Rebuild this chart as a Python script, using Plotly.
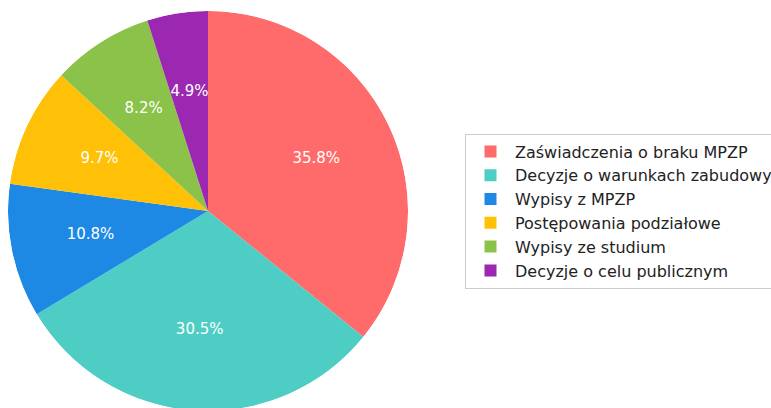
import plotly.graph_objects as go

categories = [
    "Zaświadczenia o braku MPZP",
    "Decyzje o warunkach zabudowy",
    "Wypisy z MPZP",
    "Postępowania podziałowe",
    "Wypisy ze studium",
    "Decyzje o celu publicznym",
]
values = [35.8, 30.5, 10.8, 9.7, 8.2, 4.9]
colors = ["#FF6B6B", "#4ECDC4", "#1E88E5", "#FFC107", "#8BC34A", "#9C27B0"]

# figure slightly larger than the window: the pie and legend run past its edges
W, H = 800, 420
dom_x = [8 / W, 408 / W]
dom_y = [1 - 411 / H, 1 - 11 / H]

total = sum(values)
mid_angles, widths = [], []
cum = 0.0
for v in values:
    mid_angles.append((cum + v / 2) / total * 360.0)
    widths.append(v / total * 360.0)
    cum += v
pct_text = [f"{v / total * 100:.1f}%" for v in values]

fig = go.Figure()
for name, col, th, wd in zip(categories, colors, mid_angles, widths):
    fig.add_trace(
        go.Barpolar(
            r=[1.0],
            theta=[th],
            width=[wd],
            name=name,
            marker=dict(color=col, line=dict(width=0)),
            hoverinfo="name",
        )
    )
fig.add_trace(
    go.Scatterpolar(
        r=[0.6] * len(values),
        theta=mid_angles,
        mode="text",
        text=pct_text,
        textfont=dict(color="white", size=15, family="DejaVu Sans"),
        textposition="middle center",
        showlegend=False,
        hoverinfo="skip",
    )
)

fig.update_layout(
    width=W,
    height=H,
    margin=dict(l=0, r=0, t=0, b=0),
    paper_bgcolor="white",
    plot_bgcolor="white",
    font=dict(family="DejaVu Sans", size=16, color="#222222"),
    showlegend=True,
    polar=dict(
        domain=dict(x=dom_x, y=dom_y),
        bgcolor="rgba(0,0,0,0)",
        bargap=0,
        radialaxis=dict(range=[0, 1], visible=False, showgrid=False),
        angularaxis=dict(rotation=90, direction="clockwise", visible=False, showgrid=False),
    ),
    legend=dict(
        x=465 / W,
        xanchor="left",
        y=1 - 211 / H,
        yanchor="middle",
        bordercolor="#cccccc",
        borderwidth=1,
        bgcolor="white",
        itemwidth=39,
        font=dict(size=16, family="DejaVu Sans", color="#222222"),
    ),
)

fig.write_html(
    "out.html",
    config={"displayModeBar": False},
    post_script="document.body.style.margin='0';document.body.style.overflow='hidden';",
)
